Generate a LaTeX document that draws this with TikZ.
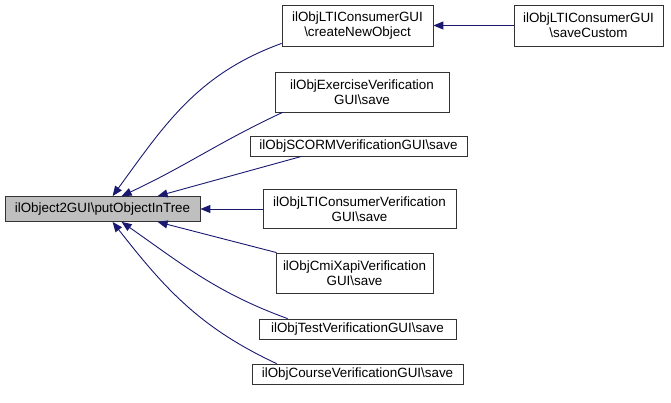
\documentclass[tikz,border=0pt]{standalone}
\usepackage{fontspec}
\setmainfont{Liberation Sans}
\usetikzlibrary{arrows.meta}
\definecolor{edgeblue}{RGB}{25,25,112}
\definecolor{maingray}{RGB}{191,191,191}
\begin{document}
\begin{tikzpicture}[x=1pt,y=1pt,
  box/.style={draw=black!80,line width=0.8pt,fill=white,inner sep=0pt,align=center,
    font=\fontsize{13.4}{15}\selectfont},
  edge/.style={draw=edgeblue,line width=0.9pt,-{Triangle[length=10pt,width=8pt]}}]
\useasboundingbox (0,0) rectangle (671,402);
\node[box,fill=maingray,minimum width=195pt,minimum height=25pt] (main) at (102.5,193) {ilObject2GUI\textbackslash putObjectInTree};
\node[box,minimum width=151pt,minimum height=41pt] (cno) at (357.5,376.5) {ilObjLTIConsumerGUI\\\textbackslash createNewObject};
\node[box,minimum width=149pt,minimum height=41pt] (sc) at (588.5,376.5) {ilObjLTIConsumerGUI\\\textbackslash saveCustom};
\node[box,minimum width=174pt,minimum height=40pt] (ex) at (362,310) {ilObjExerciseVerification\\GUI\textbackslash save};
\node[box,minimum width=217pt,minimum height=20pt] (scorm) at (358.5,256) {ilObjSCORMVerificationGUI\textbackslash save};
\node[box,minimum width=193pt,minimum height=39pt] (ltiv) at (359.5,193) {ilObjLTIConsumerVerification\\GUI\textbackslash save};
\node[box,minimum width=157pt,minimum height=40pt] (cmi) at (354.5,129) {ilObjCmiXapiVerification\\GUI\textbackslash save};
\node[box,minimum width=197pt,minimum height=20pt] (test) at (357.5,73) {ilObjTestVerificationGUI\textbackslash save};
\node[box,minimum width=211pt,minimum height=20pt] (course) at (357.5,28) {ilObjCourseVerificationGUI\textbackslash save};

\draw[edge] (sc.west) -- (cno.east);
\draw[edge] ([yshift=3pt]cno.south west) to[out=200,in=54] ([xshift=108pt]main.north west);
\draw[edge] ([xshift=8pt]ex.south west) to[out=205,in=25] ([xshift=117pt]main.north west);
\draw[edge] ([xshift=52pt]scorm.south west) -- ([xshift=153pt]main.north west);
\draw[edge] (ltiv.west) -- (main.east);
\draw[edge] ([xshift=1pt]cmi.north west) -- ([xshift=153pt]main.south west);
\draw[edge] ([xshift=29pt]test.north west) to[out=160,in=-35] ([xshift=117pt]main.south west);
\draw[edge] ([xshift=25pt]course.north west) to[out=155,in=-52] ([xshift=108pt]main.south west);
\end{tikzpicture}
\end{document}
